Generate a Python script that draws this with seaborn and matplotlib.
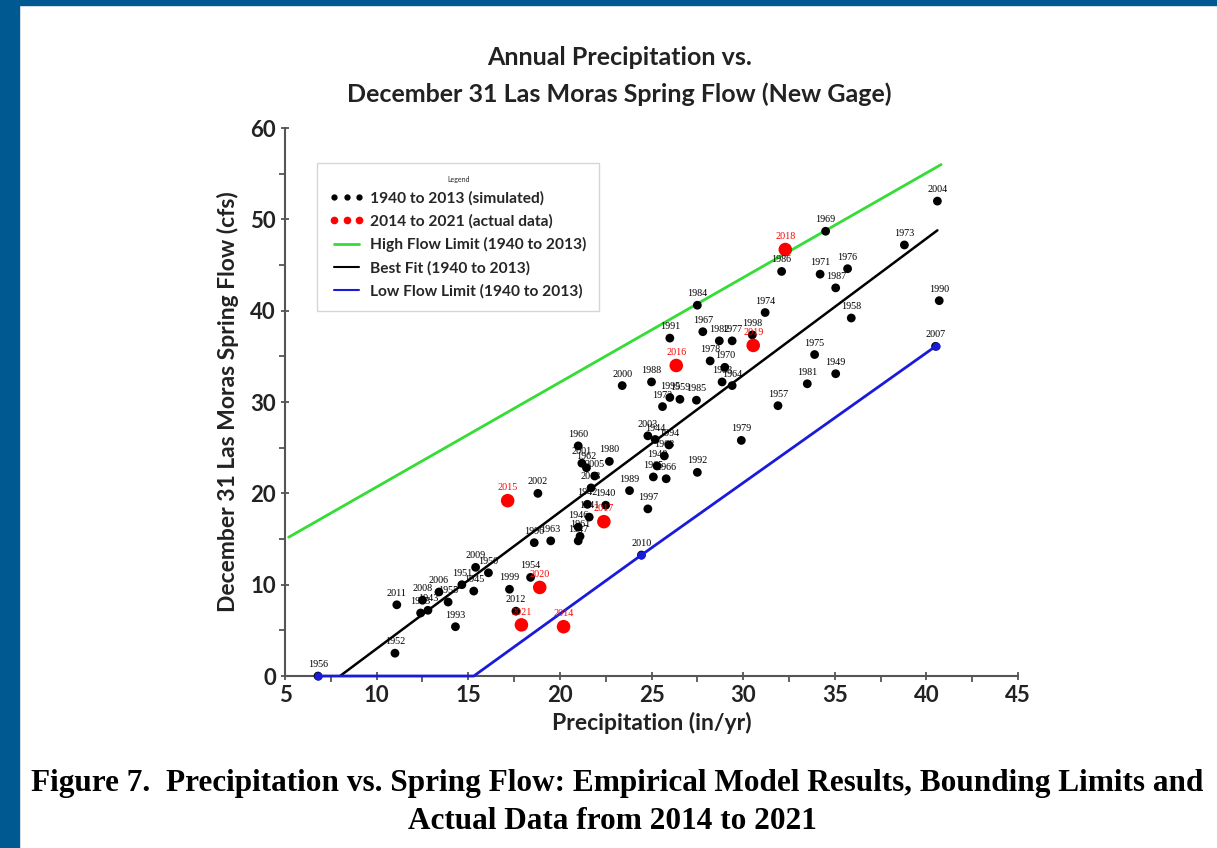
import matplotlib
matplotlib.use("Agg")
import matplotlib.pyplot as plt
from matplotlib.lines import Line2D
from matplotlib.patches import Rectangle
from matplotlib.ticker import MultipleLocator
import seaborn as sns
import pandas as pd

sns.set_style("ticks")
plt.rcParams['font.family'] = ['Lato', 'DejaVu Sans']

# simulated years 1940 to 2013
sim_year = [1956, 1952, 2011, 2008, 1953, 1943, 2006, 1955, 1993, 1951, 1945, 2009, 1950,
            1999, 1954, 2012, 1996, 1963, 1941, 1946, 1961, 1947, 1960, 2001, 1962, 1980,
            2005, 2013, 1942, 1940, 2002, 1989, 1997, 1992, 1965, 1966, 1948, 1968, 1994,
            2003, 1944, 2010, 1984, 1991, 1967, 1982, 1977, 1998, 1978, 1970, 1983, 1964,
            2000, 1988, 1995, 1959, 1985, 1972, 1957, 1974, 1979, 2004, 1969, 1986, 1971,
            1976, 1987, 1973, 1990, 1958, 2007, 1975, 1949, 1981]
sim_precip = [6.8, 11.0, 11.1, 12.5, 12.4, 12.8, 13.4, 13.9, 14.3, 14.65, 15.3, 15.4, 16.1,
              17.25, 18.4, 17.6, 18.6, 19.5, 21.6, 21.0, 21.1, 21.0, 21.0, 21.2, 21.45, 22.7,
              21.9, 21.7, 21.5, 22.5, 18.8, 23.8, 24.8, 27.5, 25.1, 25.8, 25.3, 25.7, 25.95,
              24.8, 25.2, 24.45, 27.5, 26.0, 27.8, 28.7, 29.4, 30.5, 28.2, 29.0, 28.85, 29.4,
              23.4, 25.0, 26.0, 26.55, 27.45, 25.6, 31.9, 31.2, 29.9, 40.6, 34.5, 32.1, 34.2,
              35.7, 35.05, 38.8, 40.7, 35.9, 40.5, 33.9, 35.05, 33.5]
sim_flow = [0.0, 2.5, 7.8, 8.3, 6.9, 7.2, 9.2, 8.1, 5.4, 10.0, 9.3, 11.9, 11.3,
            9.5, 10.8, 7.1, 14.6, 14.8, 17.4, 16.3, 15.3, 14.8, 25.2, 23.3, 22.8, 23.5,
            21.9, 20.6, 18.8, 18.7, 20.0, 20.3, 18.3, 22.3, 21.8, 21.6, 23.0, 24.1, 25.3,
            26.3, 25.9, 13.25, 40.6, 37.0, 37.7, 36.7, 36.7, 37.35, 34.5, 33.8, 32.2, 31.8,
            31.8, 32.2, 30.5, 30.3, 30.2, 29.5, 29.6, 39.8, 25.8, 52.0, 48.7, 44.3, 44.0,
            44.6, 42.5, 47.2, 41.1, 39.2, 36.1, 35.2, 33.1, 32.0]

# actual data 2014 to 2021
act_year = [2014, 2015, 2016, 2017, 2018, 2019, 2020, 2021]
act_precip = [20.2, 17.15, 26.35, 22.4, 32.3, 30.55, 18.9, 17.9]
act_flow = [5.4, 19.2, 34.0, 16.9, 46.7, 36.2, 9.7, 5.6]

# limit lines and best fit
high_x = [5.2, 40.8]
high_y = [15.2, 56.0]
fit_x = [8.0, 40.6]
fit_y = [0.0, 48.8]
low_x = [6.8, 15.3, 24.45, 40.5]
low_y = [0.0, 0.0, 13.25, 36.1]

sim = pd.DataFrame({"year": sim_year, "precip": sim_precip, "flow": sim_flow})
act = pd.DataFrame({"year": act_year, "precip": act_precip, "flow": act_flow})

fig = plt.figure(figsize=(12.17, 8.48), dpi=100)
fig.patches.append(Rectangle((0, 0), 19 / 1217, 1, transform=fig.transFigure, color="#005a91", zorder=0))
fig.patches.append(Rectangle((0, 1 - 5 / 848), 1, 5 / 848, transform=fig.transFigure, color="#005a91", zorder=0))

ax = fig.add_axes([0.2342, 0.2028, 0.6023, 0.6462])

sns.scatterplot(data=sim, x="precip", y="flow", color="black", s=40, edgecolor="none",
                ax=ax, zorder=3, clip_on=False)
sns.scatterplot(data=act, x="precip", y="flow", color="#ff0000", s=95, edgecolor="none",
                ax=ax, zorder=4, clip_on=False)
sns.lineplot(x=high_x, y=high_y, color="#33dd33", lw=2, sort=False, ax=ax, zorder=2)
sns.lineplot(x=fit_x, y=fit_y, color="black", lw=1.8, sort=False, ax=ax, zorder=2)
sns.lineplot(x=low_x, y=low_y, color="#1a1adb", lw=2, sort=False, ax=ax, zorder=5,
             marker="o", markevery=[0, 2, 3], markersize=6, markeredgewidth=0, clip_on=False)

for yr, px, fl in zip(sim_year, sim_precip, sim_flow):
    ax.annotate(str(yr), (px, fl), xytext=(0, 5), textcoords="offset points", ha="center",
                va="bottom", fontsize=7.3, family="Liberation Serif", color="black", zorder=6)
for yr, px, fl in zip(act_year, act_precip, act_flow):
    ax.annotate(str(yr), (px, fl), xytext=(0, 6), textcoords="offset points", ha="center",
                va="bottom", fontsize=7.3, family="Liberation Serif", color="#ff0000", zorder=6)

ax.set_xlim(5, 45)
ax.set_ylim(0, 60)
ax.xaxis.set_major_locator(MultipleLocator(5))
ax.xaxis.set_minor_locator(MultipleLocator(2.5))
ax.yaxis.set_major_locator(MultipleLocator(10))
ax.yaxis.set_minor_locator(MultipleLocator(5))
ax.tick_params(axis="both", which="major", length=6, width=1.3, color="#555555",
               labelsize=16, labelcolor="#222222", direction="inout")
ax.tick_params(axis="both", which="minor", length=4, width=1.3, color="#555555", direction="out")
for lab in ax.get_xticklabels() + ax.get_yticklabels():
    lab.set_fontweight("bold")
sns.despine(ax=ax)
for sp in ["left", "bottom"]:
    ax.spines[sp].set_color("#555555")
    ax.spines[sp].set_linewidth(1.5)

ax.set_xlabel("Precipitation (in/yr)", fontsize=16.5, fontweight="bold", color="#222222", labelpad=4)
ax.set_ylabel("December 31 Las Moras Spring Flow (cfs)", fontsize=16.5, fontweight="bold",
              color="#222222", labelpad=8)

fig.text(0.509, 0.932, "Annual Precipitation vs.", ha="center", va="center",
         fontsize=18, fontweight="bold", color="#222222")
fig.text(0.509, 0.889, "December 31 Las Moras Spring Flow (New Gage)", ha="center", va="center",
         fontsize=18, fontweight="bold", color="#222222")

handles = [
    Line2D([], [], marker="o", ls="none", color="black", markersize=3.5),
    Line2D([], [], marker="o", ls="none", color="#ff0000", markersize=4.5),
    Line2D([], [], color="#33dd33", lw=2),
    Line2D([], [], color="black", lw=1.5),
    Line2D([], [], color="#1a1adb", lw=1.5),
]
labels = ["1940 to 2013 (simulated)", "2014 to 2021 (actual data)",
          "High Flow Limit (1940 to 2013)", "Best Fit (1940 to 2013)",
          "Low Flow Limit (1940 to 2013)"]
leg = ax.legend(handles, labels, loc="upper left", bbox_to_anchor=(0.044, 0.936), numpoints=3,
                title="Legend", title_fontsize=5, prop={"weight": "bold", "size": 11.2},
                frameon=True, fancybox=False, edgecolor="#cccccc", handlelength=2.2,
                handletextpad=0.4, labelspacing=0.55, borderpad=0.8, borderaxespad=0)
leg.get_frame().set_linewidth(1.0)

fig.text(0.507, 0.0755,
         "Figure 7.  Precipitation vs. Spring Flow: Empirical Model Results, Bounding Limits and",
         ha="center", va="center", fontsize=22.5, fontweight="bold", family="Liberation Serif",
         color="black")
fig.text(0.503, 0.031, "Actual Data from 2014 to 2021", ha="center", va="center",
         fontsize=22.5, fontweight="bold", family="Liberation Serif", color="black")

fig.savefig("out.png", dpi=100)
